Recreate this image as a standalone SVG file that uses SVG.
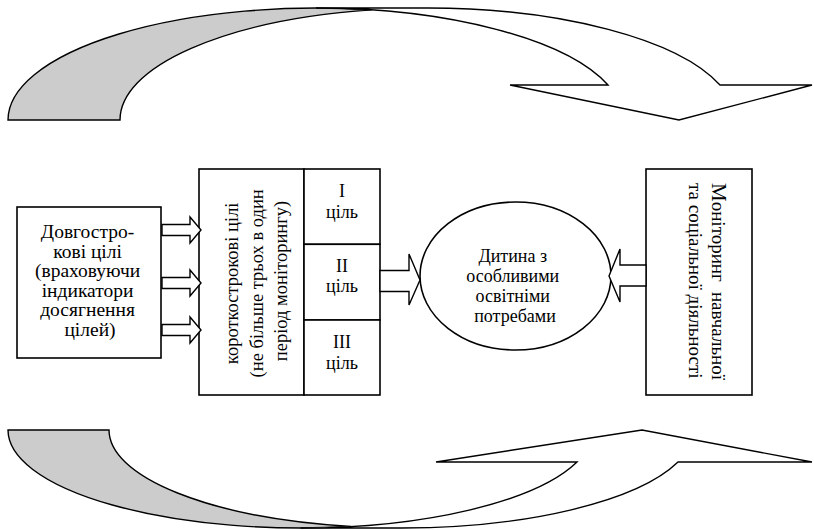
<svg xmlns="http://www.w3.org/2000/svg" width="814" height="530" viewBox="0 0 814 530">
<style>
.box{fill:#fff;stroke:#000;stroke-width:1.6}
.back{fill:#cccccc;stroke:#000;stroke-width:1.4;stroke-linejoin:miter}
.front{fill:#fff;stroke:#000;stroke-width:1.4;stroke-linejoin:miter}
.blk{fill:#fff;stroke:#000;stroke-width:1.4;stroke-linejoin:miter}
.t{font-family:"Liberation Serif","Times New Roman","DejaVu Serif",serif;fill:#000;text-anchor:middle}
</style>
<rect width="814" height="530" fill="#fff"/>

<g id="curved-arrow-top">
<path class="back" d="M8,120 A308 112 0 0 1 371.7,9.9 A308 112 0 0 0 120,120 Z"/>
<path class="front" d="M510,85 L608,85 A308 112 0 0 0 316,8 L428,8 A308 112 0 0 1 720,85 L812,85 L679,120 Z"/>
</g>

<g id="curved-arrow-bottom">
<path class="back" d="M8,430 A292.5 98 0 0 0 351,526.5 A292.5 98 0 0 1 109,430 Z"/>
<path class="front" d="M436,462 L577,462 A292.5 98 0 0 1 300.5,528 L401.5,528 A292.5 98 0 0 0 678,462 L812,462 L642,430 Z"/>
</g>

<g id="node-long-term">
<rect class="box" x="17" y="207" width="144" height="151"/>
<text class="t" font-size="19.5" font-family="Liberation Serif, serif">
<tspan x="90" y="238">Довгостро-</tspan>
<tspan x="90" y="257.5">кові цілі</tspan>
<tspan x="90" y="277">(враховуючи</tspan>
<tspan x="90" y="296.5">індикатори</tspan>
<tspan x="90" y="316">досягнення</tspan>
<tspan x="90" y="335.5">цілей)</tspan>
</text>
</g>

<g id="node-short-term">
<rect class="box" x="199" y="169" width="105" height="226"/>
<text class="t" font-size="18.5" transform="translate(0,281) rotate(-90)">
<tspan x="0" y="238">короткострокові цілі</tspan>
<tspan x="0" y="262.5">(не більше трьох в один</tspan>
<tspan x="0" y="287">період моніторингу)</tspan>
</text>
</g>

<g id="node-goal-1">
<rect class="box" x="304" y="169" width="76" height="75.3"/>
<text class="t" font-size="18"><tspan x="342" y="197">I</tspan><tspan x="342" y="218">ціль</tspan></text>
</g>
<g id="node-goal-2">
<rect class="box" x="304" y="244.3" width="76" height="75.7"/>
<text class="t" font-size="18"><tspan x="342" y="272">II</tspan><tspan x="342" y="292">ціль</tspan></text>
</g>
<g id="node-goal-3">
<rect class="box" x="304" y="320" width="76" height="75"/>
<text class="t" font-size="18"><tspan x="342" y="348">III</tspan><tspan x="342" y="369">ціль</tspan></text>
</g>

<g id="node-child">
<ellipse class="box" cx="515.5" cy="276" rx="95.5" ry="74"/>
<text class="t" font-size="18">
<tspan x="515" y="262">Дитина з</tspan>
<tspan x="515" y="282">особливими</tspan>
<tspan x="515" y="302">освітніми</tspan>
<tspan x="515" y="322">потребами</tspan>
</text>
</g>

<g id="node-monitoring">
<rect class="box" x="646" y="169" width="106" height="226"/>
<g transform="rotate(90)">
<text class="t" font-size="19" style="text-anchor:start" x="183" y="-712"><tspan font-size="21">М</tspan>оніторинг</text>
<text class="t" font-size="19" style="text-anchor:end" x="380" y="-712">навчальної</text>
<text class="t" font-size="19" style="text-anchor:start" x="183" y="-689">та соціальної діяльності</text>
</g>
</g>

<g id="connectors">
<path class="blk" d="M162,224.5 H190 V217 L201,230 L190,243 V235.5 H162 Z"/>
<path class="blk" d="M162,277.5 H190 V270 L201,283 L190,296 V288.5 H162 Z"/>
<path class="blk" d="M162,324.5 H190 V317 L201,330 L190,343 V335.5 H162 Z"/>
<path class="blk" d="M380,270.5 H409 V254 L420,280 L409,305 V291.5 H380 Z"/>
<path class="blk" d="M646,265 H620 V249 L609,276 L620,302 V286 H646 Z"/>
</g>
</svg>
